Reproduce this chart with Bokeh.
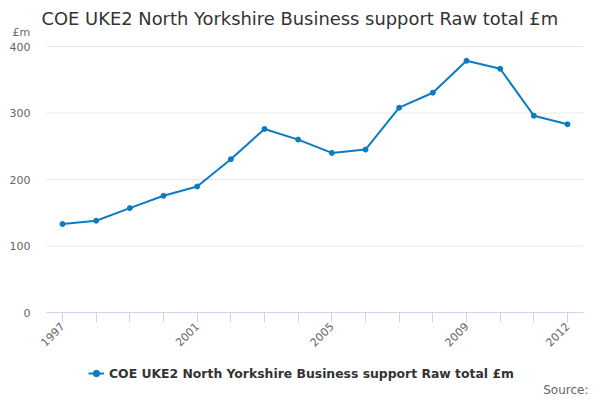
import math
from bokeh.plotting import figure
from bokeh.models import (Legend, LegendItem, FixedTicker, Range1d, Label,
                          ColumnDataSource, LinearAxis)
from bokeh.core.properties import value
from bokeh.embed import file_html
from bokeh.resources import INLINE

years = [1997, 1998, 1999, 2000, 2001, 2002, 2003, 2004, 2005, 2006,
         2007, 2008, 2009, 2010, 2011, 2012]
values = [133, 138, 157, 175.5, 189.5, 230.5, 276, 260, 240, 245,
          308, 330.5, 378.5, 366.5, 296, 283]
y_ticks = [0, 100, 200, 300, 400]
x_labels = {1997: "1997", 2001: "2001", 2005: "2005", 2009: "2009", 2012: "2012"}
series_name = "COE UKE2 North Yorkshire Business support Raw total £m"
title_text = "COE UKE2 North Yorkshire Business support Raw total £m"
unit_text = "£m"
source_text = "Source:"

FONT = "DejaVu Sans"
COLOR = "#0a7cc1"

W, H = 600, 400
# plot-area geometry in pixels (canvas coordinates, origin top-left)
PX_LEFT, PX_RIGHT, PX_TOP, PX_BOTTOM = 46, 583, 46, 312
PAD_X = 16  # pixels from plot edge to first/last category

x_scale = (PX_RIGHT - PX_LEFT - 2 * PAD_X) / (years[-1] - years[0])
y_scale = (PX_BOTTOM - PX_TOP) / (y_ticks[-1] - y_ticks[0])
x0 = years[0] - (PX_LEFT + PAD_X) / x_scale
x1 = x0 + W / x_scale
y0 = y_ticks[0] - (H - PX_BOTTOM) / y_scale
y1 = y0 + H / y_scale
gx0 = x0 + PX_LEFT / x_scale
gx1 = x0 + PX_RIGHT / x_scale

src = ColumnDataSource(dict(x=years, y=values))
grid_src = ColumnDataSource(dict(y=y_ticks[1:], lab=[str(t) for t in y_ticks[1:]]))
ylab_src = ColumnDataSource(dict(y=y_ticks, lab=[str(t) for t in y_ticks]))

p = figure(width=W, height=H, output_backend="svg", toolbar_location=None,
           x_range=Range1d(x0, x1), y_range=Range1d(y0, y1),
           min_border=0, title=None, x_axis_type=None, y_axis_type=None)
p.outline_line_color = None
p.background_fill_color = "white"
p.border_fill_color = "white"

# horizontal grid lines
p.segment(x0=gx0, x1=gx1, y0="y", y1="y", source=grid_src,
          line_color="#e6e6e6", line_width=1, level="underlay")

# y tick labels
p.text(x=gx0, y="y", text="lab", source=ylab_src, x_offset=-16,
       text_align="right", text_baseline="middle",
       text_font=value(FONT), text_font_size="11px", text_color="#666666")

xaxis = LinearAxis(fixed_location=y_ticks[0], ticker=FixedTicker(ticks=years),
                   bounds=(gx0, gx1))
xaxis.major_label_overrides = {y: x_labels.get(y, "") for y in years}
xaxis.axis_line_color = "#ccd6eb"
xaxis.major_tick_line_color = "#ccd6eb"
xaxis.major_tick_out = 10
xaxis.major_tick_in = 0
xaxis.minor_tick_line_color = None
xaxis.major_label_orientation = math.pi / 4
xaxis.major_label_standoff = 2
xaxis.major_label_text_font = FONT
xaxis.major_label_text_font_size = "11px"
xaxis.major_label_text_color = "#666666"
p.add_layout(xaxis, "below")

ln = p.line("x", "y", source=src, line_color=COLOR, line_width=2)
sc = p.scatter("x", "y", source=src, size=5, fill_color=COLOR, line_color=COLOR)

legend = Legend(items=[LegendItem(label=series_name, renderers=[ln, sc])],
                location=(88, 19), orientation="horizontal",
                border_line_color=None, background_fill_alpha=0,
                padding=0, margin=0, glyph_width=16, glyph_height=16,
                label_height=16, label_standoff=5,
                label_text_font=FONT, label_text_font_size="12.4px",
                label_text_font_style="bold", label_text_color="#333333")
p.add_layout(legend, "center")

p.add_layout(Label(x=41, y=H - 18, x_units="screen", y_units="screen",
                   text=title_text, text_font=FONT, text_font_size="17.9px",
                   text_color="#333333", text_baseline="middle"))
p.add_layout(Label(x=12, y=H - 32, x_units="screen", y_units="screen",
                   text=unit_text, text_font=FONT, text_font_size="11px",
                   text_color="#666666", text_baseline="middle"))
p.add_layout(Label(x=588, y=H - 389, x_units="screen", y_units="screen",
                   text=source_text, text_font=FONT, text_font_size="12px",
                   text_color="#666666", text_baseline="middle",
                   text_align="right"))

open("out.html", "w").write(file_html(p, INLINE))
